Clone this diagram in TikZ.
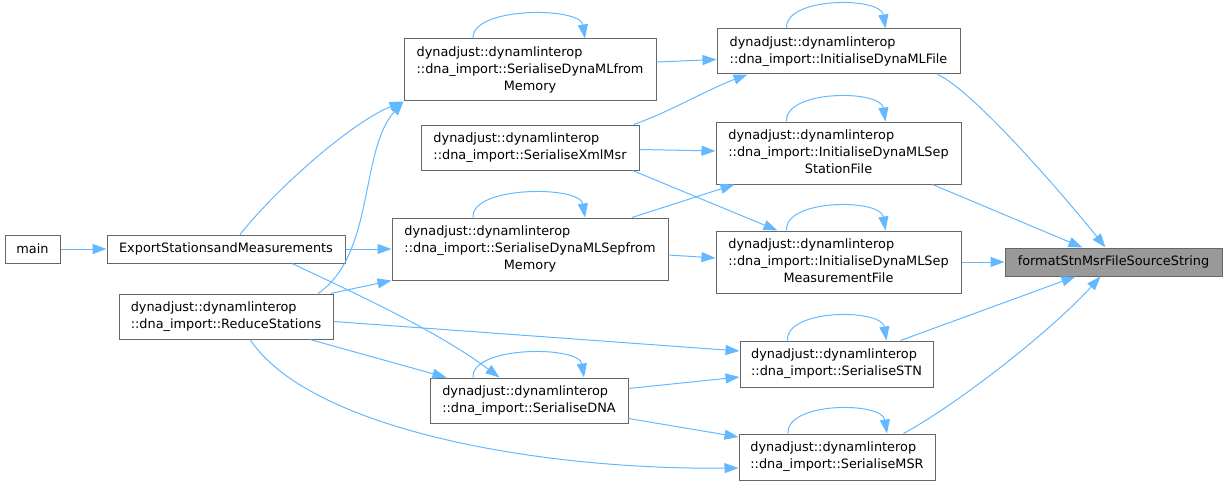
\documentclass[tikz,border=0pt]{standalone}
\usepackage{fontspec}
\setmainfont{DejaVu Sans}
\usetikzlibrary{arrows.meta,calc}
\definecolor{edgeblue}{HTML}{63B8FF}
\definecolor{boxline}{HTML}{666666}
\definecolor{curgray}{HTML}{999999}
\newcommand{\fnlines}[1]{\begin{tabular}{@{}l@{}}#1\end{tabular}}
\newcommand{\fnlast}[1]{\multicolumn{1}{@{}c@{}}{#1}}
\tikzset{
  fnbox/.style={draw=boxline, line width=0.75pt, fill=white, inner sep=0pt, align=center, font=\fontsize{9.65}{12.75}\selectfont},
  onebox/.style={fnbox, minimum height=21pt},
  twobox/.style={fnbox, minimum height=33.75pt},
  threebox/.style={fnbox, minimum height=46.5pt},
  curbox/.style={onebox, fill=curgray},
  call/.style={-{Triangle[length=10.5pt,width=7.5pt]}, line width=0.75pt, draw=edgeblue}
}

\begin{document}
\begin{tikzpicture}[x=0.75pt, y=-0.75pt]
  \useasboundingbox (0,0) rectangle (1228,485);

  % left columns
  \node[onebox, minimum width=41.25pt] (main) at (32.5,249) {main};
  \node[onebox, minimum width=178.5pt] (export) at (226,249) {ExportStationsandMeasurements};
  \node[twobox, minimum width=160.5pt] (reduce) at (226,316.5) {\fnlines{dynadjust::dynamlinterop\\::dna\_import::ReduceStations}};

  % middle column
  \node[threebox, minimum width=189pt] (dmlmem) at (530,70) {\fnlines{dynadjust::dynamlinterop\\::dna\_import::SerialiseDynaMLfrom\\\fnlast{Memory}}};
  \node[twobox, minimum width=163.5pt] (xmlmsr) at (530,147.5) {\fnlines{dynadjust::dynamlinterop\\::dna\_import::SerialiseXmlMsr}};
  \node[threebox, minimum width=207pt] (sepmem) at (530,249) {\fnlines{dynadjust::dynamlinterop\\::dna\_import::SerialiseDynaMLSepfrom\\\fnlast{Memory}}};
  \node[twobox, minimum width=148.5pt] (sdna) at (529,400.5) {\fnlines{dynadjust::dynamlinterop\\::dna\_import::SerialiseDNA}};

  % right column
  \node[twobox, minimum width=182.25pt] (initfile) at (838.5,51.5) {\fnlines{dynadjust::dynamlinterop\\::dna\_import::InitialiseDynaMLFile}};
  \node[threebox, minimum width=183.75pt] (initstn) at (838.5,153) {\fnlines{dynadjust::dynamlinterop\\::dna\_import::InitialiseDynaMLSep\\\fnlast{StationFile}}};
  \node[threebox, minimum width=183.75pt] (initmsr) at (838.5,262) {\fnlines{dynadjust::dynamlinterop\\::dna\_import::InitialiseDynaMLSep\\\fnlast{MeasurementFile}}};
  \node[twobox, minimum width=144.75pt, minimum height=34.5pt] (serstn) at (836.5,364) {\fnlines{dynadjust::dynamlinterop\\::dna\_import::SerialiseSTN}};
  \node[twobox, minimum width=147pt, minimum height=34.5pt] (sermsr) at (837,457) {\fnlines{dynadjust::dynamlinterop\\::dna\_import::SerialiseMSR}};

  % the function itself
  \node[curbox, minimum width=162.75pt] (fmtsrc) at (1113.5,262) {formatStnMsrFileSourceString};

  % calls out of the left columns
  \draw[call] (main) -- (export);
  \draw[call] ($(export.north)+(14,0)$) .. controls +(40,-50) and +(-50,20) .. (dmlmem.south west);
  \draw[call] (export.east) -- (sepmem.west);
  \draw[call] ($(export.south)+(66,0)$) .. controls +(70,33) and +(-60,-45) .. ($(sdna.north west)+(70,0)$);
  \draw[call] ($(reduce.north)+(92,0)$) .. controls +(57,-39) and +(-44,49) .. (dmlmem.south west);
  \draw[call] ($(reduce.north east)+(-3,0)$) -- (sepmem.south west);
  \draw[call] ($(reduce.east)+(0,5)$) -- ($(serstn.west)+(0,-13)$);
  \draw[call] ($(reduce.south)+(84,0)$) -- ($(sdna.north west)+(17,0)$);
  \draw[call] ($(reduce.south)+(24,0)$) .. controls +(60,90) and +(-200,2) .. ($(sermsr.west)+(0,11)$);

  % calls out of the middle column
  \draw[call] ($(dmlmem.east)+(0,-8)$) -- ($(initfile.west)+(0,8)$);
  \draw[call] ($(xmlmsr.north east)+(-6,0)$) .. controls +(35,-12) and +(-40,15) .. ($(initfile.south west)+(31,0)$);
  \draw[call] ($(xmlmsr.east)+(0,2)$) -- ($(initstn.west)+(0,-2)$);
  \draw[call] ($(xmlmsr.south east)+(-7,0)$) -- ($(initmsr.north west)+(62,0)$);
  \draw[call] ($(sepmem.north)+(102,0)$) -- ($(initstn.south west)+(19,0)$);
  \draw[call] ($(sepmem.east)+(0,6)$) -- ($(initmsr.west)+(0,-4)$);
  \draw[call] ($(sdna.east)+(0,-12)$) -- ($(serstn.west)+(0,13)$);
  \draw[call] ($(sdna.east)+(0,18)$) -- ($(sermsr.west)+(0,-20)$);

  % calls into formatStnMsrFileSourceString
  \draw[call] ($(initfile.south east)+(-23,0)$) .. controls +(35,15) and +(-40,-50) .. ($(fmtsrc.north)+(-8,0)$);
  \draw[call] ($(initstn.south east)+(-29,0)$) -- ($(fmtsrc.north)+(-31,0)$);
  \draw[call] (initmsr) -- (fmtsrc);
  \draw[call] ($(serstn.north east)+(-33,0)$) -- ($(fmtsrc.south)+(-38,0)$);
  \draw[call] ($(sermsr.north east)+(-32,0)$) .. controls +(55,-30) and +(-50,55) .. ($(fmtsrc.south)+(-13,0)$);

  % recursive calls
  \foreach \n/\a/\b in {dmlmem/57/55, sepmem/57/55, sdna/56/55, initfile/52/47, initstn/52/47, initmsr/52/47, serstn/49/50, sermsr/49/50}
    \draw[call] ($(\n.north)+(-\a,0)$) .. controls +(-2,-32) and +(-5,-32) .. ($(\n.north)+(\b,0)$);
\end{tikzpicture}
\end{document}
